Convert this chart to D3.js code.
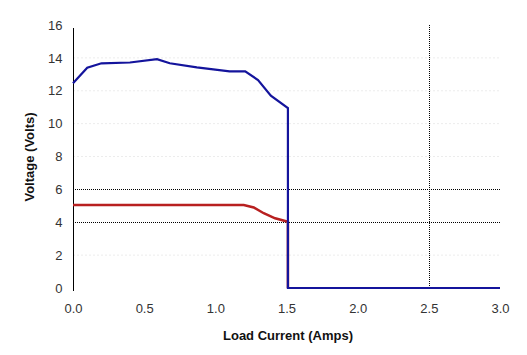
<!DOCTYPE html>
<html><head><meta charset="utf-8">
<script src="https://cdn.jsdelivr.net/npm/d3@7"></script>
<style>body{margin:0;background:#fff}svg{display:block}</style>
</head><body>
<svg id="c" width="527" height="355"></svg>
<script>
const xTicks = [0, 0.5, 1.0, 1.5, 2.0, 2.5, 3.0];
const yTicks = [0, 2, 4, 6, 8, 10, 12, 14, 16];
const blueX = [0, 0.1, 0.2, 0.4, 0.59, 0.68, 0.87, 1.1, 1.21, 1.3, 1.39, 1.51, 1.51, 3.0];
const blueY = [12.45, 13.4, 13.67, 13.72, 13.92, 13.67, 13.42, 13.18, 13.18, 12.65, 11.7, 10.95, 0, 0];
const redX = [0, 0.3, 0.6, 0.9, 1.2, 1.27, 1.34, 1.42, 1.51, 1.51];
const redY = [5.05, 5.05, 5.05, 5.05, 5.05, 4.9, 4.55, 4.24, 4.03, 0];
const refY = [4, 6];
const refX = [2.5];
const faintY = [2, 8, 10, 12, 14];

const svg = d3.select("#c");
const x = d3.scaleLinear().domain([0, 3]).range([73, 500]);
const y = d3.scaleLinear().domain([0, 16]).range([288, 25]);
const font = "'Liberation Sans', Arial, sans-serif";

// faint gridlines
svg.append("g").selectAll("line").data(faintY).join("line")
  .attr("x1", x(0)).attr("x2", x(3)).attr("y1", d => y(d)).attr("y2", d => y(d))
  .attr("stroke", "#ececec").attr("stroke-dasharray", "2,2");

// dotted reference lines
svg.append("g").selectAll("line").data(refY).join("line")
  .attr("x1", x(0)).attr("x2", x(3)).attr("y1", d => Math.round(y(d)) + 0.5).attr("y2", d => Math.round(y(d)) + 0.5)
  .attr("stroke", "#000").attr("stroke-dasharray", "1,1");
svg.append("g").selectAll("line").data(refX).join("line")
  .attr("x1", d => Math.round(x(d)) + 0.5).attr("x2", d => Math.round(x(d)) + 0.5).attr("y1", y(16)).attr("y2", y(0))
  .attr("stroke", "#000").attr("stroke-dasharray", "1,1");

// y axis
const yAxis = d3.axisLeft(y).tickValues(yTicks).tickSize(0).tickPadding(11).tickFormat(d3.format("d"));
const gy = svg.append("g").attr("transform", "translate(73.5,0)").call(yAxis);
gy.select(".domain").attr("stroke", "#000").attr("d", `M0,${y(16)+3}V${y(0)+3}`);
gy.selectAll("text").attr("font-family", font).attr("font-size", 13).attr("fill", "#333");

// x axis (labels only)
const xAxis = d3.axisBottom(x).tickValues(xTicks).tickSize(0).tickPadding(16).tickFormat(d3.format(".1f"));
const gx = svg.append("g").attr("transform", `translate(0,${y(0)})`).call(xAxis);
gx.select(".domain").remove();
gx.selectAll("text").attr("font-family", font).attr("font-size", 13).attr("fill", "#333");

// lines
const line = d3.line().x(d => x(d[0])).y(d => y(d[1]));
svg.append("path").datum(redX.map((v, i) => [v, redY[i]]))
  .attr("d", line).attr("fill", "none").attr("stroke", "#b82020").attr("stroke-width", 2.5);
svg.append("path").datum(blueX.map((v, i) => [v, blueY[i]]))
  .attr("d", line).attr("fill", "none").attr("stroke", "#14149c").attr("stroke-width", 2.2);

// titles
svg.append("text").attr("x", 288).attr("y", 340).attr("text-anchor", "middle")
  .attr("font-family", font).attr("font-size", 13).attr("font-weight", "bold").attr("fill", "#111")
  .text("Load Current (Amps)");
svg.append("text").attr("transform", "translate(34,157) rotate(-90)").attr("text-anchor", "middle")
  .attr("font-family", font).attr("font-size", 13).attr("font-weight", "bold").attr("fill", "#111")
  .text("Voltage (Volts)");
</script>
</body></html>
